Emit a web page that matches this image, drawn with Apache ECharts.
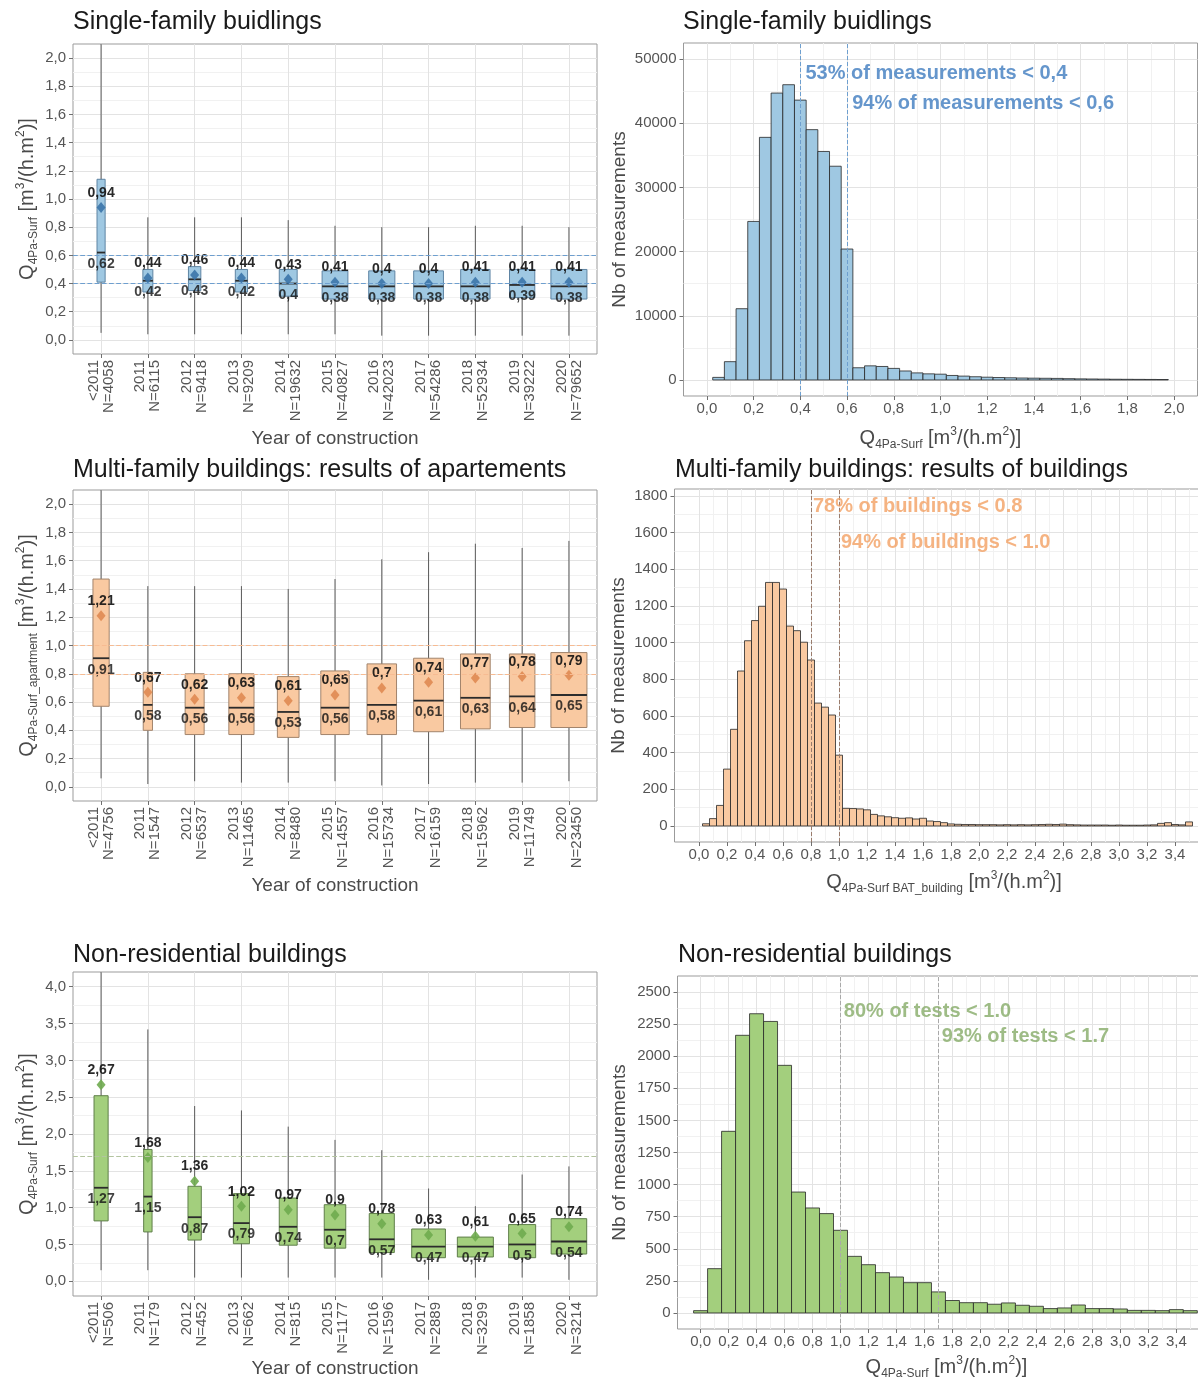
<!DOCTYPE html>
<html>
<head>
<meta charset="utf-8">
<title>Air permeability by year of construction</title>
<script src="https://cdn.jsdelivr.net/npm/echarts@6/dist/echarts.min.js"></script>
<style>
html, body { margin: 0; padding: 0; background: #ffffff; }
#chart { width: 1198px; height: 1380px; }
</style>
</head>
<body>
<div id="chart"></div>
<script>
// ---------- Categories ----------
const years = ['<2011', '2011', '2012', '2013', '2014', '2015', '2016', '2017', '2018', '2019', '2020'];
const yearPositions = [0, 1, 2, 3, 4, 5, 6, 7, 8, 9, 10];

// ---------- Single-family buildings: box statistics ----------
const sfCount  = [4058, 6115, 9418, 9209, 19632, 40827, 42023, 54286, 52934, 39222, 79652];
const sfLow    = [0.05, 0.04, 0.04, 0.04, 0.04, 0.04, 0.03, 0.03, 0.03, 0.03, 0.03];
const sfQ1     = [0.41, 0.34, 0.35, 0.34, 0.31, 0.29, 0.29, 0.29, 0.29, 0.30, 0.29];
const sfMedian = [0.62, 0.42, 0.43, 0.42, 0.40, 0.38, 0.38, 0.38, 0.38, 0.39, 0.38];
const sfQ3     = [1.14, 0.50, 0.52, 0.50, 0.50, 0.49, 0.49, 0.49, 0.50, 0.50, 0.50];
const sfHigh   = [2.30, 0.87, 0.87, 0.87, 0.85, 0.81, 0.80, 0.80, 0.81, 0.81, 0.80];
const sfMean   = [0.94, 0.44, 0.46, 0.44, 0.43, 0.41, 0.40, 0.40, 0.41, 0.41, 0.41];
const sfRefLines = [0.4, 0.6];

// ---------- Multi-family buildings (apartments): box statistics ----------
const mfCount  = [4756, 1547, 6537, 11465, 8480, 14557, 15734, 16159, 15962, 11749, 23450];
const mfLow    = [0.06, 0.02, 0.04, 0.03, 0.03, 0.04, 0.01, 0.02, 0.03, 0.03, 0.04];
const mfQ1     = [0.57, 0.40, 0.37, 0.37, 0.35, 0.37, 0.37, 0.39, 0.41, 0.42, 0.42];
const mfMedian = [0.91, 0.58, 0.56, 0.56, 0.53, 0.56, 0.58, 0.61, 0.63, 0.64, 0.65];
const mfQ3     = [1.47, 0.81, 0.80, 0.80, 0.78, 0.82, 0.87, 0.91, 0.94, 0.94, 0.95];
const mfHigh   = [2.30, 1.42, 1.42, 1.42, 1.40, 1.47, 1.61, 1.66, 1.72, 1.69, 1.74];
const mfMean   = [1.21, 0.67, 0.62, 0.63, 0.61, 0.65, 0.70, 0.74, 0.77, 0.78, 0.79];
const mfRefLines = [0.8, 1.0];

// ---------- Non-residential buildings: box statistics ----------
const nrCount  = [506, 179, 452, 662, 815, 1177, 1596, 2889, 3299, 1858, 3214];
const nrLow    = [0.15, 0.15, 0.05, 0.05, 0.05, 0.05, 0.05, 0.02, 0.05, 0.05, 0.02];
const nrQ1     = [0.82, 0.67, 0.56, 0.51, 0.49, 0.45, 0.39, 0.32, 0.33, 0.32, 0.37];
const nrMedian = [1.27, 1.15, 0.87, 0.79, 0.74, 0.70, 0.57, 0.47, 0.47, 0.50, 0.54];
const nrQ3     = [2.52, 1.79, 1.29, 1.19, 1.13, 1.04, 0.92, 0.71, 0.60, 0.77, 0.85];
const nrHigh   = [4.50, 3.42, 2.38, 2.32, 2.10, 1.92, 1.78, 1.26, 1.02, 1.45, 1.56];
const nrMean   = [2.67, 1.68, 1.36, 1.02, 0.97, 0.90, 0.78, 0.63, 0.61, 0.65, 0.74];
const nrRefLines = [1.7];

// ---------- Histogram: single-family measurements (bin centres / counts) ----------
const sfBins = [0.05, 0.10, 0.15, 0.20, 0.25, 0.30, 0.35, 0.40, 0.45, 0.50, 0.55, 0.60, 0.65, 0.70, 0.75,
  0.80, 0.85, 0.90, 0.95, 1.00, 1.05, 1.10, 1.15, 1.20, 1.25, 1.30, 1.35, 1.40, 1.45, 1.50, 1.55, 1.60,
  1.65, 1.70, 1.75, 1.80, 1.85, 1.90, 1.95];
const sfFreq = [400, 2850, 11100, 24700, 37800, 44700, 46000, 43600, 39000, 35600, 33300, 20400, 1900, 2200, 2100,
  1800, 1400, 1100, 950, 900, 700, 600, 500, 430, 380, 340, 300, 280, 260, 240, 200, 170,
  150, 130, 110, 100, 90, 80, 70];
const sfVLines = [0.4, 0.6];
const sfNotes = ['53% of measurements < 0,4', '94% of measurements < 0,6'];
const sfNoteX = [0.42, 0.62];
const sfNoteY = [47800, 43000];

// ---------- Histogram: multi-family buildings ----------
const mfBins = [0.05, 0.10, 0.15, 0.20, 0.25, 0.30, 0.35, 0.40, 0.45, 0.50, 0.55, 0.60, 0.65, 0.70, 0.75,
  0.80, 0.85, 0.90, 0.95, 1.00, 1.05, 1.10, 1.15, 1.20, 1.25, 1.30, 1.35, 1.40, 1.45, 1.50, 1.55, 1.60,
  1.65, 1.70, 1.75, 1.80, 1.85, 1.90, 1.95, 2.00, 2.05, 2.10, 2.15, 2.20, 2.25, 2.30, 2.35, 2.40, 2.45,
  2.50, 2.55, 2.60, 2.65, 2.70, 2.75, 2.80, 2.85, 2.90, 2.95, 3.00, 3.05, 3.10, 3.15, 3.20, 3.25, 3.30,
  3.35, 3.40, 3.45, 3.50];
const mfFreq = [12, 40, 112, 310, 527, 845, 1010, 1120, 1198, 1328, 1328, 1292, 1090, 1065, 1002,
  905, 670, 648, 605, 386, 96, 95, 93, 88, 63, 55, 50, 45, 42, 44, 38, 42,
  27, 24, 18, 11, 9, 8, 8, 7, 7, 7, 6, 7, 6, 7, 6, 7, 8,
  9, 8, 10, 7, 6, 5, 5, 5, 5, 4, 5, 4, 4, 4, 5, 6, 14,
  18, 8, 6, 22];
const mfVLines = [0.8, 1.0];
const mfNotes = ['78% of buildings < 0.8', '94% of buildings < 1.0'];
const mfNoteX = [0.81, 1.01];
const mfNoteY = [1740, 1544];

// ---------- Histogram: non-residential buildings ----------
const nrBins = [0.0, 0.1, 0.2, 0.3, 0.4, 0.5, 0.6, 0.7, 0.8, 0.9, 1.0, 1.1, 1.2, 1.3, 1.4, 1.5, 1.6, 1.7,
  1.8, 1.9, 2.0, 2.1, 2.2, 2.3, 2.4, 2.5, 2.6, 2.7, 2.8, 2.9, 3.0, 3.1, 3.2, 3.3, 3.4, 3.5];
const nrFreq = [18, 345, 1415, 2163, 2331, 2271, 1929, 942, 818, 774, 644, 441, 376, 314, 280, 236, 236, 164,
  97, 80, 80, 68, 78, 60, 52, 34, 39, 62, 34, 34, 31, 20, 20, 18, 26, 18];
const nrVLines = [1.0, 1.7];
const nrNotes = ['80% of tests < 1.0', '93% of tests < 1.7'];
const nrNoteX = [1.02, 1.72];
const nrNoteY = [2345, 2150];

// ---------- Axis breaks ----------
const boxTicks2 = [0, 0.2, 0.4, 0.6, 0.8, 1.0, 1.2, 1.4, 1.6, 1.8, 2.0];
const boxTicks4 = [0, 0.5, 1.0, 1.5, 2.0, 2.5, 3.0, 3.5, 4.0];
const sfHistXTicks = [0, 0.2, 0.4, 0.6, 0.8, 1.0, 1.2, 1.4, 1.6, 1.8, 2.0];
const wideHistXTicks = [0, 0.2, 0.4, 0.6, 0.8, 1.0, 1.2, 1.4, 1.6, 1.8, 2.0, 2.2, 2.4, 2.6, 2.8, 3.0, 3.2, 3.4];
const sfHistYTicks = [0, 10000, 20000, 30000, 40000, 50000];
const mfHistYTicks = [0, 200, 400, 600, 800, 1000, 1200, 1400, 1600, 1800];
const nrHistYTicks = [0, 250, 500, 750, 1000, 1250, 1500, 1750, 2000, 2250, 2500];

// ---------- Styling ----------
const FONT = '"Liberation Sans", Arial, Helvetica, sans-serif';
const TITLE_COLOR = '#1a1a1a';
const NAME_COLOR = '#4a4a4a';
const TICK_COLOR = '#555555';
const GRID_MAJOR = '#e3e3e3';
const GRID_MINOR = '#f1f1f1';
const BOX_WIDTH = 0.77;

const palette = {
  blue:   { fill: '#9fc8e2', stroke: '#5e84a3', mean: '#3b74aa', note: '#3f7cbf', ref: '#6e9fcf', vline: '#6e9fcf' },
  orange: { fill: '#f9c9a1', stroke: '#a2846c', mean: '#df8a52', note: '#f3a063', ref: '#f7bb92', vline: '#9a7c6c' },
  green:  { fill: '#a3cf7d', stroke: '#5f7f4a', mean: '#6fab4f', note: '#86ab68', ref: '#b3c4a0', vline: '#a9a9a9' }
};

const comma = v => String(v).replace('.', ',');
const fixed1 = v => v.toFixed(1).replace('.', ',');
function midpoints(arr) {
  const out = [];
  for (let i = 0; i < arr.length - 1; i++) out.push(+((arr[i] + arr[i + 1]) / 2).toFixed(4));
  return out;
}

function qName(sub) {
  return '{m|Q}{s|' + sub + '}{m| [m}{p|3}{m|/(h.m}{p|2}{m|)]}';
}
const nameRich = {
  m: { fontSize: 20, lineHeight: 25, color: NAME_COLOR, fontFamily: FONT, verticalAlign: 'middle' },
  s: { fontSize: 12, lineHeight: 25, color: NAME_COLOR, fontFamily: FONT, verticalAlign: 'bottom' },
  p: { fontSize: 12, lineHeight: 25, color: NAME_COLOR, fontFamily: FONT, verticalAlign: 'top' }
};
const plainName = { fontSize: 19, color: NAME_COLOR, fontFamily: FONT };

// ---------- Layout: one grid per panel ----------
const grids = [
  { left: 73,    top: 44,  width: 524, height: 310 },  // single-family boxes
  { left: 683.5, top: 43,  width: 514, height: 353 },  // single-family histogram
  { left: 73,    top: 490, width: 524, height: 311 },  // multi-family boxes
  { left: 674.5, top: 489, width: 539, height: 353 },  // multi-family histogram
  { left: 73,    top: 972, width: 524, height: 324 },  // non-residential boxes
  { left: 677.5, top: 976, width: 538, height: 353 }   // non-residential histogram
];

const titles = [
  { text: 'Single-family buidlings', left: 73, top: 10 },
  { text: 'Single-family buidlings', left: 683, top: 10 },
  { text: 'Multi-family buildings: results of apartements', left: 73, top: 458 },
  { text: 'Multi-family buildings: results of buildings', left: 675, top: 458 },
  { text: 'Non-residential buildings', left: 73, top: 943 },
  { text: 'Non-residential buildings', left: 678, top: 943 }
];

const xAxes = [];
const yAxes = [];
const series = [];

// A major axis (labels, ticks, major grid) plus a bare axis carrying the minor grid.
function addAxis(list, c) {
  const isX = c.dim === 'x';
  const idx = list.length;
  list.push({
    type: 'value', gridIndex: c.grid, min: c.min, max: c.max,
    position: isX ? 'bottom' : 'left',
    axisLine: { show: false, onZero: false },
    axisTick: { show: true, customValues: c.majors, length: 4, lineStyle: { color: '#6f6f6f', width: 1 } },
    axisLabel: Object.assign({
      customValues: c.majors, formatter: c.fmt, color: TICK_COLOR, fontSize: 15,
      fontFamily: FONT, margin: c.margin, hideOverlap: false
    }, c.label || {}),
    splitLine: { show: true, lineStyle: { color: GRID_MAJOR, width: 1 } },
    name: c.name, nameLocation: 'middle', nameGap: c.nameGap,
    nameRotate: isX ? 0 : 90, nameTextStyle: c.nameStyle, nameMoveOverlap: false,
    z: 2
  });
  const minors = c.minors || [];
  list.push({
    type: 'value', gridIndex: c.grid, min: c.min, max: c.max,
    position: isX ? 'top' : 'right',
    axisLine: { show: false, onZero: false },
    axisTick: { show: false, customValues: minors.length ? minors : [c.min] },
    axisLabel: { show: false },
    splitLine: { show: minors.length > 0, lineStyle: { color: GRID_MINOR, width: 1 } },
    z: 1
  });
  return idx;
}

function boxRenderer(maxN, fill, stroke) {
  return function (params, api) {
    const i = api.value(0);
    const w = api.size([BOX_WIDTH * Math.sqrt(api.value(6) / maxN), 0])[0];
    const lo = api.coord([i, api.value(1)]);
    const q1 = api.coord([i, api.value(2)]);
    const md = api.coord([i, api.value(3)]);
    const q3 = api.coord([i, api.value(4)]);
    const hi = api.coord([i, api.value(5)]);
    const cx = md[0];
    return {
      type: 'group',
      children: [
        { type: 'line', shape: { x1: cx, y1: lo[1], x2: cx, y2: hi[1] }, style: { stroke: '#5a5a5a', lineWidth: 1 } },
        { type: 'rect', shape: { x: cx - w / 2, y: q3[1], width: w, height: q1[1] - q3[1] },
          style: { fill: fill, stroke: stroke, lineWidth: 1 } },
        { type: 'line', shape: { x1: cx - w / 2, y1: md[1], x2: cx + w / 2, y2: md[1] },
          style: { stroke: '#2c2c2c', lineWidth: 1.8 } }
      ]
    };
  };
}

function histRenderer(binWidth, fill) {
  return function (params, api) {
    const x = api.value(0);
    const top = api.coord([x - binWidth / 2, api.value(1)]);
    const base = api.coord([x + binWidth / 2, 0]);
    return {
      type: 'rect',
      shape: { x: top[0], y: top[1], width: base[0] - top[0], height: base[1] - top[1] },
      style: { fill: fill, stroke: '#262626', lineWidth: 0.8 }
    };
  };
}

const valueLabel = { fontWeight: 'bold', fontSize: 14, color: '#111111', fontFamily: FONT };

function boxPanel(p) {
  const xi = addAxis(xAxes, {
    dim: 'x', grid: p.grid, min: -0.6, max: 10.6, majors: yearPositions, margin: 6,
    fmt: v => years[Math.round(v)] + '\nN=' + p.count[Math.round(v)],
    label: { rotate: 90, lineHeight: 15 },
    name: 'Year of construction', nameGap: p.xNameGap, nameStyle: plainName
  });
  const yi = addAxis(yAxes, {
    dim: 'y', grid: p.grid, min: p.yMin, max: p.yMax, majors: p.yTicks, minors: midpoints(p.yTicks),
    margin: 7, fmt: fixed1,
    name: qName(p.sub), nameGap: 33, nameStyle: { rich: nameRich }
  });
  const maxN = Math.max.apply(null, p.count);
  series.push({
    type: 'custom', xAxisIndex: xi, yAxisIndex: yi, clip: true, z: 2,
    data: p.count.map((n, i) => [i, p.low[i], p.q1[i], p.median[i], p.q3[i], p.high[i], n]),
    renderItem: boxRenderer(maxN, p.color.fill, p.color.stroke)
  });
  series.push({
    type: 'scatter', xAxisIndex: xi, yAxisIndex: yi, z: 4,
    symbol: 'diamond', symbolSize: [9, 11],
    itemStyle: { color: p.color.mean, opacity: 0.9 },
    data: p.mean.map((v, i) => [i, v]),
    label: Object.assign({ show: true, position: 'top', distance: 2, formatter: d => comma(d.value[1]) }, valueLabel)
  });
  series.push({
    type: 'scatter', xAxisIndex: xi, yAxisIndex: yi, z: 4,
    symbolSize: 1, itemStyle: { color: 'rgba(0,0,0,0)' },
    data: p.median.map((v, i) => [i, v]),
    label: Object.assign({ show: true, position: 'bottom', distance: 4, formatter: d => comma(d.value[1]) }, valueLabel),
    markLine: {
      silent: true, symbol: 'none', label: { show: false },
      lineStyle: { type: 'dashed', color: p.color.ref, width: 1.2 },
      data: p.refLines.map(v => ({ yAxis: v }))
    }
  });
}

function histPanel(p) {
  const xi = addAxis(xAxes, {
    dim: 'x', grid: p.grid, min: p.xMin, max: p.xMax, majors: p.xTicks, minors: p.xMinors,
    margin: 5, fmt: fixed1,
    name: qName(p.sub), nameGap: p.xNameGap, nameStyle: { rich: nameRich }
  });
  const yi = addAxis(yAxes, {
    dim: 'y', grid: p.grid, min: p.yMin, max: p.yMax, majors: p.yTicks, minors: midpoints(p.yTicks),
    margin: 7, fmt: v => String(v),
    name: 'Nb of measurements', nameGap: p.yNameGap, nameStyle: plainName
  });
  series.push({
    type: 'custom', xAxisIndex: xi, yAxisIndex: yi, clip: true, z: 2,
    data: p.bins.map((x, i) => [x, p.freq[i]]),
    renderItem: histRenderer(p.binWidth, p.color.fill)
  });
  series.push({
    type: 'scatter', xAxisIndex: xi, yAxisIndex: yi, z: 5,
    symbolSize: 1, itemStyle: { color: 'rgba(0,0,0,0)' },
    data: p.notes.map((t, i) => ({ name: t, value: [p.noteX[i], p.noteY[i]] })),
    label: {
      show: true, position: 'right', distance: 0, formatter: '{b}',
      color: p.color.note, fontWeight: 'bold', fontSize: 20, fontFamily: FONT
    },
    markLine: {
      silent: true, symbol: 'none', label: { show: false },
      lineStyle: { type: 'dashed', color: p.color.vline, width: 1 },
      data: p.vlines.map(v => ({ xAxis: v }))
    }
  });
}

boxPanel({ grid: 0, count: sfCount, low: sfLow, q1: sfQ1, median: sfMedian, q3: sfQ3, high: sfHigh, mean: sfMean,
  refLines: sfRefLines, color: palette.blue, yMin: -0.1, yMax: 2.1, yTicks: boxTicks2, sub: '4Pa-Surf', xNameGap: 75 });
histPanel({ grid: 1, bins: sfBins, freq: sfFreq, binWidth: 0.05, color: palette.blue,
  xMin: -0.1, xMax: 2.1, xTicks: sfHistXTicks, xMinors: midpoints(sfHistXTicks),
  yMin: -2500, yMax: 52500, yTicks: sfHistYTicks, sub: '4Pa-Surf', xNameGap: 30, yNameGap: 54,
  vlines: sfVLines, notes: sfNotes, noteX: sfNoteX, noteY: sfNoteY });

boxPanel({ grid: 2, count: mfCount, low: mfLow, q1: mfQ1, median: mfMedian, q3: mfQ3, high: mfHigh, mean: mfMean,
  refLines: mfRefLines, color: palette.orange, yMin: -0.1, yMax: 2.1, yTicks: boxTicks2, sub: '4Pa-Surf_apartment', xNameGap: 75 });
histPanel({ grid: 3, bins: mfBins, freq: mfFreq, binWidth: 0.05, color: palette.orange,
  xMin: -0.175, xMax: 3.675, xTicks: wideHistXTicks, xMinors: midpoints(wideHistXTicks.concat([3.6])),
  yMin: -87.5, yMax: 1837.5, yTicks: mfHistYTicks, sub: '4Pa-Surf BAT_building', xNameGap: 28, yNameGap: 46,
  vlines: mfVLines, notes: mfNotes, noteX: mfNoteX, noteY: mfNoteY });

boxPanel({ grid: 4, count: nrCount, low: nrLow, q1: nrQ1, median: nrMedian, q3: nrQ3, high: nrHigh, mean: nrMean,
  refLines: nrRefLines, color: palette.green, yMin: -0.2, yMax: 4.2, yTicks: boxTicks4, sub: '4Pa-Surf', xNameGap: 63 });
histPanel({ grid: 5, bins: nrBins, freq: nrFreq, binWidth: 0.1, color: palette.green,
  xMin: -0.165, xMax: 3.68, xTicks: wideHistXTicks, xMinors: midpoints(wideHistXTicks.concat([3.6])),
  yMin: -125, yMax: 2625, yTicks: nrHistYTicks, sub: '4Pa-Surf', xNameGap: 26, yNameGap: 48,
  vlines: nrVLines, notes: nrNotes, noteX: nrNoteX, noteY: nrNoteY });

const option = {
  animation: false,
  backgroundColor: '#ffffff',
  textStyle: { fontFamily: FONT },
  title: titles.map(t => ({
    text: t.text, left: t.left, top: t.top, padding: 0,
    textStyle: { fontSize: 25, fontWeight: 'normal', color: TITLE_COLOR, fontFamily: FONT }
  })),
  grid: grids.map(g => ({
    left: g.left, top: g.top, width: g.width, height: g.height,
    show: true, backgroundColor: '#ffffff', borderColor: '#9b9b9b', borderWidth: 1,
    containLabel: false, outerBoundsMode: 'none'
  })),
  xAxis: xAxes,
  yAxis: yAxes,
  series: series
};

const chart = echarts.init(document.getElementById('chart'), null, { renderer: 'canvas' });
chart.setOption(option);
</script>
</body>
</html>
